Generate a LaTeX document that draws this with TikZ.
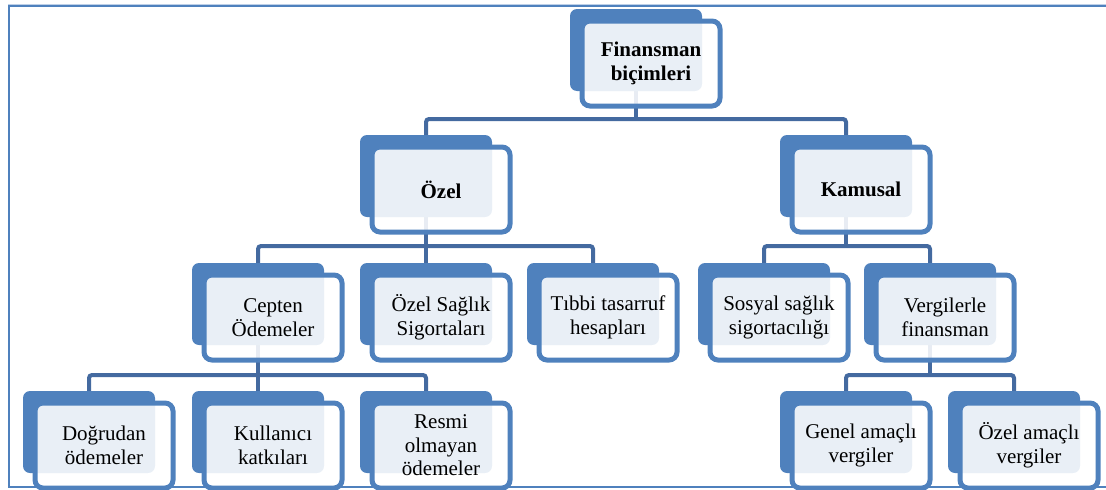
\documentclass[tikz,border=0pt]{standalone}
\usepackage{fontspec}
\setmainfont{Liberation Serif}
\usetikzlibrary{calc}
\pgfdeclarelayer{bg}
\pgfsetlayers{bg,main}

\definecolor{boxblue}{RGB}{79,129,189}
\definecolor{linkblue}{RGB}{68,106,160}
\definecolor{framelight}{RGB}{190,208,232}

\tikzset{
  backbox/.style={rectangle, rounded corners=7pt, fill=boxblue, draw=none,
    minimum width=132pt, minimum height=82pt, inner sep=0pt},
  frontbox/.style={rectangle, rounded corners=8pt, draw=boxblue, line width=5pt,
    fill=white, fill opacity=0.88, text opacity=1, text=black,
    minimum width=138pt, minimum height=85pt, inner sep=0pt, align=center,
    font=\fontsize{21}{23.5}\selectfont},
  headbox/.style={frontbox, font=\fontsize{21}{23.5}\selectfont\bfseries},
  conn/.style={draw=linkblue, line width=4pt, rounded corners=3pt},
  frameline/.style={draw=boxblue, line width=2pt}
}

% #1 name, #2 left and #3 top of the shaded back card, #4 style, #5 label
\newcommand\orgcard[5]{%
  \node[backbox] (#1b) at ({#2+66},{#3+41}) {};
  \node[#4] (#1) at ({#2+81},{#3+54.5}) {#5};}

\begin{document}
\begin{tikzpicture}[x=1pt,y=-1pt]
\useasboundingbox (0,0) rectangle (1106,490);
\clip (0,0) rectangle (1106,490);

% outer frame
\draw[framelight, line width=1pt] (8,4) -- (1106,4);
\draw[frameline] (9,6) -- (1106,6);
\draw[frameline] (9,5) -- (9,487) -- (1106,487);

% cards
\orgcard{fin}{570}{9}{headbox}{Finansman\\biçimleri}
\orgcard{oze}{360}{135}{headbox}{Özel}
\orgcard{kam}{780}{135}{headbox}{Kamusal}
\orgcard{cep}{192}{263}{frontbox}{Cepten\\Ödemeler}
\orgcard{osg}{360}{263}{frontbox}{Özel Sağlık\\Sigortaları}
\orgcard{tib}{527}{263}{frontbox}{Tıbbi tasarruf\\hesapları}
\orgcard{sos}{698}{263}{frontbox}{Sosyal sağlık\\sigortacılığı}
\orgcard{ver}{864}{263}{frontbox}{Vergilerle\\finansman}
\orgcard{dog}{23}{391}{frontbox}{Doğrudan\\ödemeler}
\orgcard{kul}{192}{391}{frontbox}{Kullanıcı\\katkıları}
\orgcard{res}{360}{391}{frontbox}{Resmi\\olmayan\\ödemeler}
\orgcard{gen}{780}{391}{frontbox}{Genel amaçlı\\vergiler}
\orgcard{oza}{948}{391}{frontbox}{Özel amaçlı\\vergiler}

% bus heights of the connectors
\coordinate (bus0) at (0,119);
\coordinate (bus1) at (0,246);
\coordinate (bus2) at (0,375);

\begin{pgfonlayer}{bg}
  % level 0 -> level 1
  \draw[conn] (finb.center) -- (finb |- bus0);
  \draw[conn] (ozeb.north) |- (finb |- bus0) -| (kamb.north);
  % Özel -> children
  \draw[conn] (ozeb.center) -- (osgb.north);
  \draw[conn] (cepb.north) |- (ozeb |- bus1) -| (tibb.north);
  % Kamusal -> children
  \draw[conn] (kamb.center) -- (kamb |- bus1);
  \draw[conn] (sosb.north) |- (kamb |- bus1) -| (verb.north);
  % Cepten Ödemeler -> children
  \draw[conn] (cepb.center) -- (kulb.north);
  \draw[conn] (dogb.north) |- (cepb |- bus2) -| (resb.north);
  % Vergilerle finansman -> children
  \draw[conn] (verb.center) -- (verb |- bus2);
  \draw[conn] (genb.north) |- (verb |- bus2) -| (ozab.north);
\end{pgfonlayer}
\end{tikzpicture}
\end{document}
